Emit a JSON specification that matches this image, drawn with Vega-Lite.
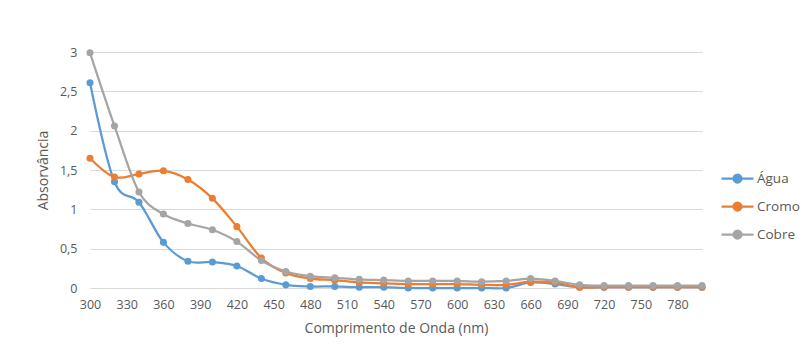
{
  "$schema": "https://vega.github.io/schema/vega-lite/v6.json",
  "autosize": "none",
  "width": 612,
  "height": 236,
  "padding": {"left": 90, "top": 52, "right": 107, "bottom": 66},
  "background": "white",
  "config": {
    "font": "Open Sans",
    "view": {"stroke": null},
    "axis": {"labelColor": "#595959", "titleColor": "#595959", "labelFontSize": 12.5, "titleFontSize": 14, "titleFontWeight": "normal", "labelFont": "Open Sans", "titleFont": "Open Sans"},
    "legend": {"labelColor": "#595959", "labelFontSize": 13.5, "labelFont": "Open Sans"}
  },
  "data": {
    "values": [
      {"nm": 300, "serie": "Água", "abs": 2.61},
      {"nm": 320, "serie": "Água", "abs": 1.35},
      {"nm": 340, "serie": "Água", "abs": 1.09},
      {"nm": 360, "serie": "Água", "abs": 0.58},
      {"nm": 380, "serie": "Água", "abs": 0.34},
      {"nm": 400, "serie": "Água", "abs": 0.33},
      {"nm": 420, "serie": "Água", "abs": 0.28},
      {"nm": 440, "serie": "Água", "abs": 0.12},
      {"nm": 460, "serie": "Água", "abs": 0.04},
      {"nm": 480, "serie": "Água", "abs": 0.02},
      {"nm": 500, "serie": "Água", "abs": 0.02},
      {"nm": 520, "serie": "Água", "abs": 0.01},
      {"nm": 540, "serie": "Água", "abs": 0.01},
      {"nm": 560, "serie": "Água", "abs": 0.0},
      {"nm": 580, "serie": "Água", "abs": 0.0},
      {"nm": 600, "serie": "Água", "abs": 0.0},
      {"nm": 620, "serie": "Água", "abs": 0.0},
      {"nm": 640, "serie": "Água", "abs": 0.0},
      {"nm": 660, "serie": "Água", "abs": 0.07},
      {"nm": 680, "serie": "Água", "abs": 0.05},
      {"nm": 700, "serie": "Água", "abs": 0.01},
      {"nm": 720, "serie": "Água", "abs": 0.01},
      {"nm": 740, "serie": "Água", "abs": 0.01},
      {"nm": 760, "serie": "Água", "abs": 0.01},
      {"nm": 780, "serie": "Água", "abs": 0.01},
      {"nm": 800, "serie": "Água", "abs": 0.01},
      {"nm": 300, "serie": "Cromo", "abs": 1.65},
      {"nm": 320, "serie": "Cromo", "abs": 1.41},
      {"nm": 340, "serie": "Cromo", "abs": 1.45},
      {"nm": 360, "serie": "Cromo", "abs": 1.49},
      {"nm": 380, "serie": "Cromo", "abs": 1.38},
      {"nm": 400, "serie": "Cromo", "abs": 1.14},
      {"nm": 420, "serie": "Cromo", "abs": 0.78},
      {"nm": 440, "serie": "Cromo", "abs": 0.38},
      {"nm": 460, "serie": "Cromo", "abs": 0.19},
      {"nm": 480, "serie": "Cromo", "abs": 0.12},
      {"nm": 500, "serie": "Cromo", "abs": 0.1},
      {"nm": 520, "serie": "Cromo", "abs": 0.07},
      {"nm": 540, "serie": "Cromo", "abs": 0.06},
      {"nm": 560, "serie": "Cromo", "abs": 0.05},
      {"nm": 580, "serie": "Cromo", "abs": 0.05},
      {"nm": 600, "serie": "Cromo", "abs": 0.05},
      {"nm": 620, "serie": "Cromo", "abs": 0.04},
      {"nm": 640, "serie": "Cromo", "abs": 0.04},
      {"nm": 660, "serie": "Cromo", "abs": 0.08},
      {"nm": 680, "serie": "Cromo", "abs": 0.07},
      {"nm": 700, "serie": "Cromo", "abs": 0.01},
      {"nm": 720, "serie": "Cromo", "abs": 0.01},
      {"nm": 740, "serie": "Cromo", "abs": 0.01},
      {"nm": 760, "serie": "Cromo", "abs": 0.01},
      {"nm": 780, "serie": "Cromo", "abs": 0.01},
      {"nm": 800, "serie": "Cromo", "abs": 0.01},
      {"nm": 300, "serie": "Cobre", "abs": 2.99},
      {"nm": 320, "serie": "Cobre", "abs": 2.06},
      {"nm": 340, "serie": "Cobre", "abs": 1.22},
      {"nm": 360, "serie": "Cobre", "abs": 0.94},
      {"nm": 380, "serie": "Cobre", "abs": 0.82},
      {"nm": 400, "serie": "Cobre", "abs": 0.74},
      {"nm": 420, "serie": "Cobre", "abs": 0.59},
      {"nm": 440, "serie": "Cobre", "abs": 0.35},
      {"nm": 460, "serie": "Cobre", "abs": 0.21},
      {"nm": 480, "serie": "Cobre", "abs": 0.15},
      {"nm": 500, "serie": "Cobre", "abs": 0.13},
      {"nm": 520, "serie": "Cobre", "abs": 0.11},
      {"nm": 540, "serie": "Cobre", "abs": 0.1},
      {"nm": 560, "serie": "Cobre", "abs": 0.09},
      {"nm": 580, "serie": "Cobre", "abs": 0.09},
      {"nm": 600, "serie": "Cobre", "abs": 0.09},
      {"nm": 620, "serie": "Cobre", "abs": 0.08},
      {"nm": 640, "serie": "Cobre", "abs": 0.09},
      {"nm": 660, "serie": "Cobre", "abs": 0.12},
      {"nm": 680, "serie": "Cobre", "abs": 0.09},
      {"nm": 700, "serie": "Cobre", "abs": 0.04},
      {"nm": 720, "serie": "Cobre", "abs": 0.03},
      {"nm": 740, "serie": "Cobre", "abs": 0.03},
      {"nm": 760, "serie": "Cobre", "abs": 0.03},
      {"nm": 780, "serie": "Cobre", "abs": 0.03},
      {"nm": 800, "serie": "Cobre", "abs": 0.03}
    ]
  },
  "mark": {"type": "line", "interpolate": "cardinal", "strokeWidth": 2.25, "point": {"filled": true, "size": 50}},
  "encoding": {
    "x": {
      "field": "nm", "type": "quantitative",
      "scale": {"domain": [300, 800], "nice": false, "zero": false},
      "axis": {
        "title": "Comprimento de Onda (nm)",
        "values": [300, 330, 360, 390, 420, 450, 480, 510, 540, 570, 600, 630, 660, 690, 720, 750, 780],
        "grid": false, "ticks": false, "domainColor": "#D9D9D9", "domainWidth": 1,
        "labelPadding": 10, "titlePadding": 11, "labelFlush": false
      }
    },
    "y": {
      "field": "abs", "type": "quantitative",
      "scale": {"domain": [0, 3], "nice": false},
      "axis": {
        "title": "Absorvância",
        "values": [0, 0.5, 1, 1.5, 2, 2.5, 3],
        "labelExpr": "replace(format(datum.value, '~g'), '.', ',')",
        "grid": true, "gridColor": "#D9D9D9", "ticks": false, "domain": false,
        "labelPadding": 13, "titlePadding": 9
      }
    },
    "color": {
      "field": "serie", "type": "nominal",
      "scale": {"domain": ["Água", "Cromo", "Cobre"], "range": ["#5B9BD5", "#ED7D31", "#A5A5A5"]},
      "legend": {
        "title": null, "orient": "none", "legendX": 630, "legendY": 109,
        "symbolType": "M -1 0 L 1 0 M 0.25 0 A 0.25 0.25 0 1 1 -0.25 0 A 0.25 0.25 0 1 1 0.25 0",
        "symbolSize": 1024, "symbolStrokeWidth": 2.25, "labelOffset": 2, "rowPadding": 2, "padding": 0
      }
    }
  }
}
